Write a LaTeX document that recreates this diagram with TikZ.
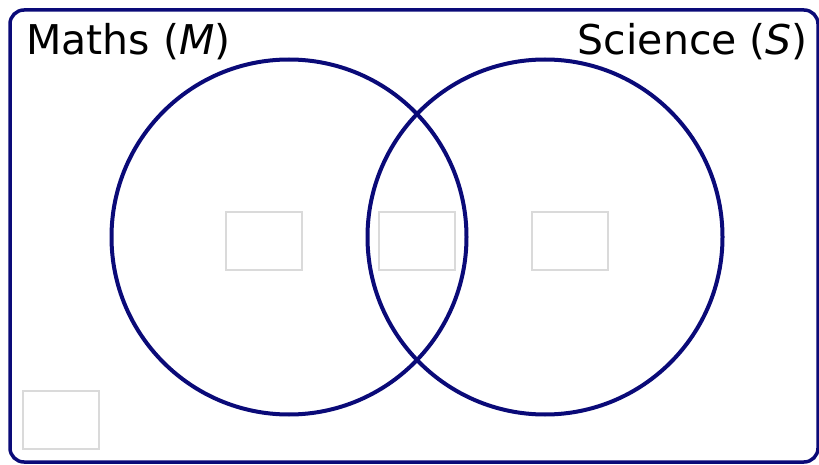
\documentclass[tikz,border=0pt]{standalone}
\usepackage{fontspec}
\setmainfont{DejaVu Sans}
\usepackage{tikz}
\usetikzlibrary{positioning}
\definecolor{VennNavy}{HTML}{0A0A78}
\definecolor{SlotGrey}{HTML}{DADADA}

\begin{document}
\begin{tikzpicture}[x=1pt,y=-1pt,
    setring/.style={circle,draw=VennNavy,line width=4pt,minimum size=355pt,inner sep=0pt},
    slot/.style={draw=SlotGrey,line width=1.8pt,minimum width=76pt,minimum height=58pt,inner sep=0pt},
    setname/.style={inner sep=0pt,font=\fontsize{41}{46}\selectfont}]
  \useasboundingbox (0,0) rectangle (819,465);
  \draw[VennNavy,line width=3.5pt,rounded corners=14pt] (10,10) rectangle (818,462);
  \node[setring] (maths) at (289,237) {};
  \node[setring] (science) at (545,237) {};
  \node[setname,anchor=base west] (mathslabel) at (26,55) {Maths (\textit{M})};
  \node[setname,anchor=base east] (sciencelabel) at (808,55) {Science (\textit{S})};
  \foreach \name/\x/\y in {onlym/264/241,both/417/241,onlys/570/241,neither/61/420}{
    \node[slot] (\name) at (\x,\y) {};
  }
\end{tikzpicture}
\end{document}
